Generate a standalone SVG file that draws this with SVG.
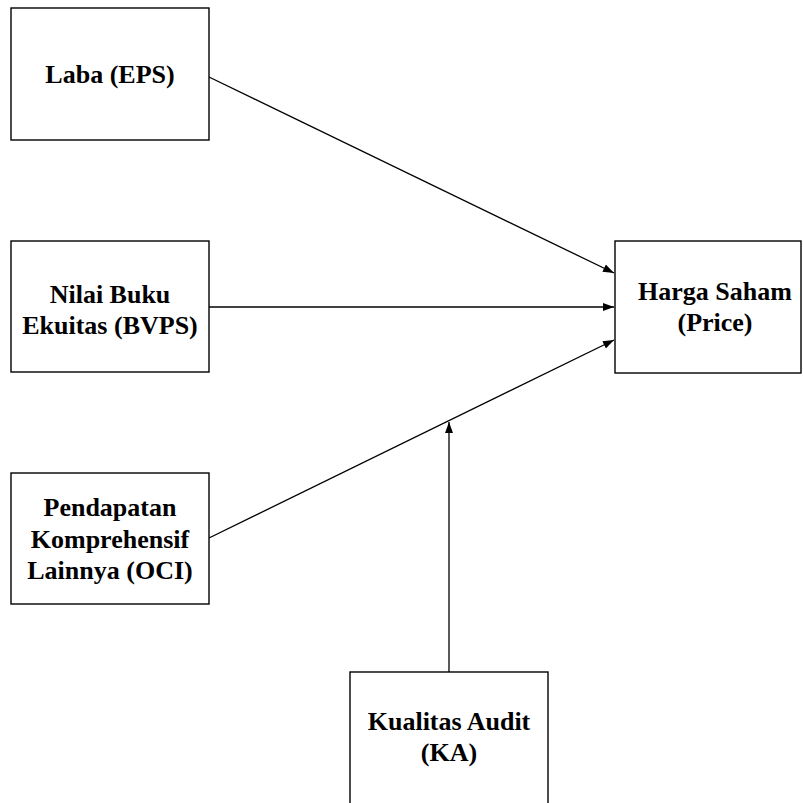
<svg xmlns="http://www.w3.org/2000/svg" width="803" height="803" viewBox="0 0 803 803">
<style>
.box{fill:#fff;stroke:#000;stroke-width:1.4}
.lbl{font-family:"Liberation Serif","Times New Roman",serif;font-weight:bold;font-size:26px;text-anchor:middle;fill:#000}
.con{stroke:#000;stroke-width:1.3;fill:none;marker-end:url(#ah)}
</style>
<defs>
<marker id="ah" markerUnits="userSpaceOnUse" markerWidth="12" markerHeight="10" refX="11" refY="5" orient="auto">
<path d="M0,1 L11,5 L0,9 z" fill="#000"/>
</marker>
</defs>
<rect width="803" height="803" fill="#fff"/>
<g id="connectors">
<line class="con" x1="209" y1="77" x2="614" y2="273"/>
<line class="con" x1="209" y1="307" x2="614" y2="307"/>
<line class="con" x1="209" y1="538" x2="614" y2="340"/>
<line class="con" x1="449" y1="672" x2="449" y2="422"/>
</g>
<g id="laba">
<rect class="box" x="11" y="8" width="198" height="132"/>
<text class="lbl" x="110" y="83">Laba (EPS)</text>
</g>
<g id="bvps">
<rect class="box" x="11" y="241" width="198" height="131"/>
<text class="lbl" x="110" y="303">Nilai Buku</text>
<text class="lbl" x="110" y="334">Ekuitas (BVPS)</text>
</g>
<g id="oci">
<rect class="box" x="11" y="473" width="198" height="131"/>
<text class="lbl" x="110" y="516">Pendapatan</text>
<text class="lbl" x="110" y="548">Komprehensif</text>
<text class="lbl" x="110" y="579">Lainnya (OCI)</text>
</g>
<g id="price">
<rect class="box" x="615" y="241" width="186" height="132"/>
<text class="lbl" x="715" y="300">Harga Saham</text>
<text class="lbl" x="715" y="331">(Price)</text>
</g>
<g id="ka">
<rect class="box" x="350" y="672" width="198" height="140"/>
<text class="lbl" x="449" y="730">Kualitas Audit</text>
<text class="lbl" x="449" y="761">(KA)</text>
</g>
</svg>
